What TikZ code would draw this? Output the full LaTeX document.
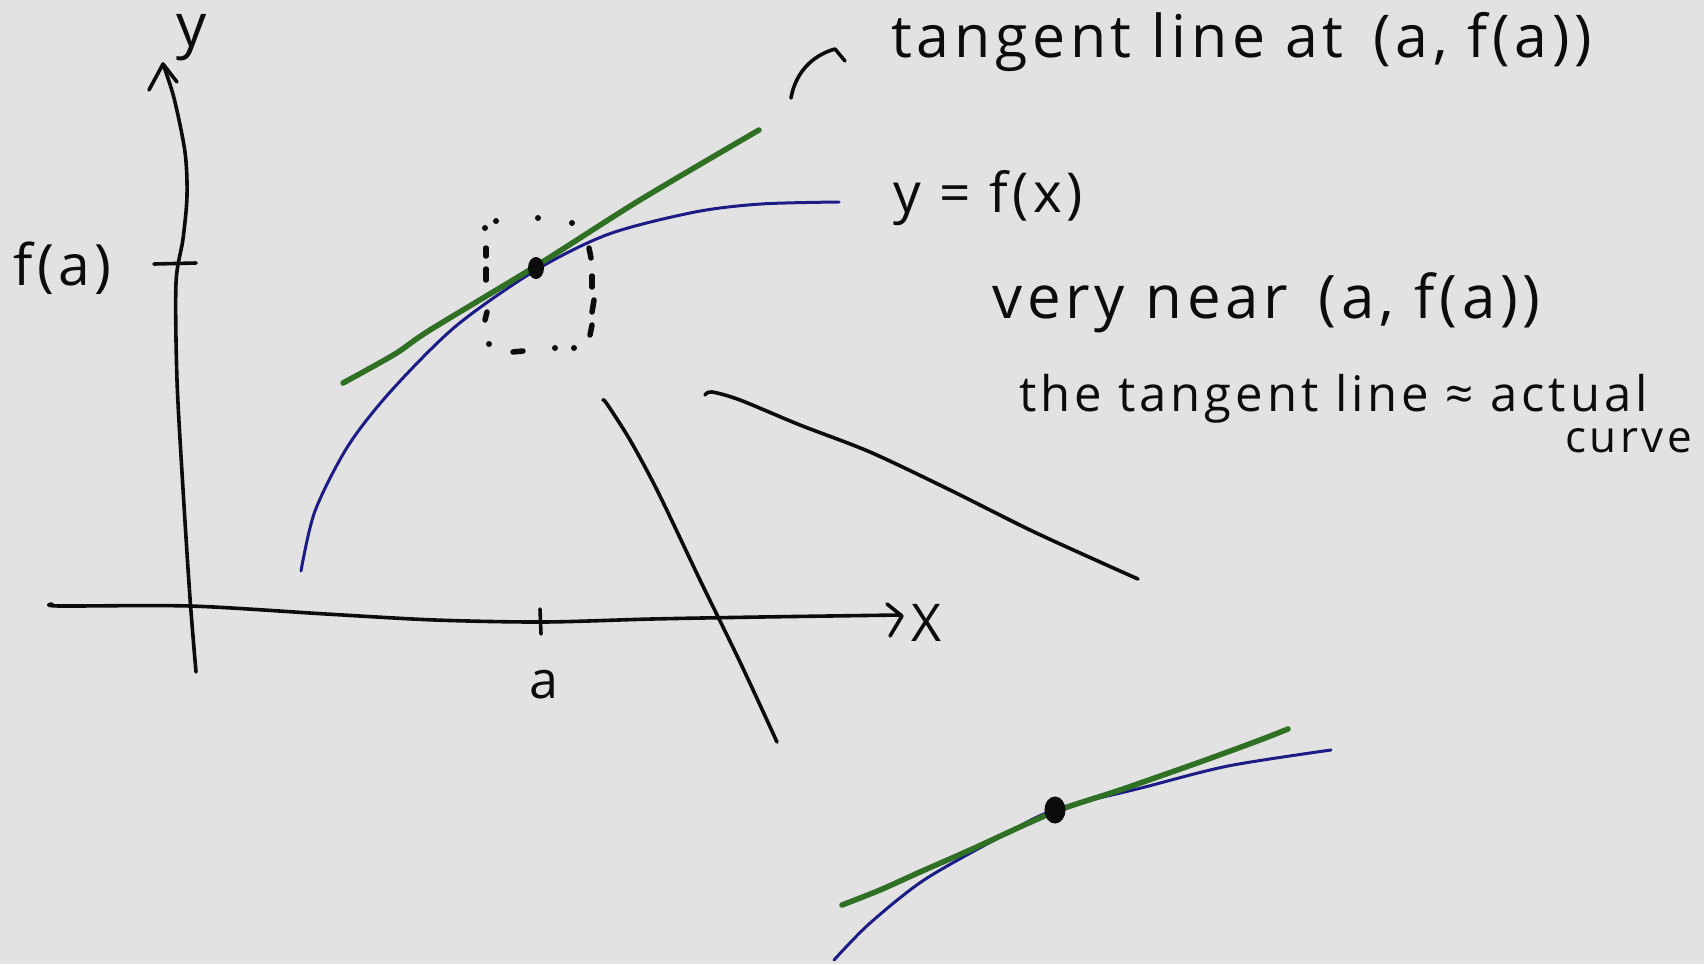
\documentclass[tikz,border=0pt]{standalone}
\usepackage{fontspec}
\setmainfont{Open Sans}[LetterSpace=8]
\usetikzlibrary{arrows.meta}
\definecolor{bgc}{RGB}{226,226,226}
\definecolor{curveblue}{RGB}{28,28,135}
\definecolor{tangreen}{RGB}{48,112,36}
\definecolor{inkc}{RGB}{12,12,12}
\begin{document}
\begin{tikzpicture}[x=1pt,y=-1pt,
  inkline/.style={draw=inkc,line width=3.6pt,line cap=round,line join=round},
  blueline/.style={draw=curveblue,line width=3pt,line cap=round,line join=round},
  greenline/.style={draw=tangreen,line width=5.5pt,line cap=round,line join=round},
  hand/.style={inner sep=0pt,text=inkc,font=\fontsize{52}{60}\selectfont},
  dotmark/.style={draw=inkc,line width=5.5pt,line cap=round}]
\fill[bgc] (0,0) rectangle (1704,964);
\useasboundingbox (0,0) rectangle (1704,964);

% axes
\draw[inkline] plot[smooth] coordinates {(196,672) (190,598) (183,489) (177,380) (176,283) (183,239) (187,196) (185,152) (174,98) (163,64)};
\draw[inkline] (149,90) -- (163,64) -- (177,82);
\draw[inkline] (154,264) -- (196,263);
\draw[inkline] plot[smooth] coordinates {(52,604) (60,606) (190,606) (326,614) (435,620) (543,622) (652,619) (761,617) (900,615)};
\draw[inkline] (887,604) -- (902,616) -- (890,636);
\draw[inkline] (540,609) -- (541,634);

% labels on axes
\node[hand,anchor=base,font=\fontsize{60}{70}\selectfont] (ylab) at (192,46) {y};
\node[hand,anchor=base west] (xlab) at (911,641) {X};
\node[hand,anchor=base west,font=\fontsize{57}{66}\selectfont] (fa) at (13,285) {f(a)};
\node[hand,anchor=base] (alab) at (544,698) {a};

% main curve and tangent
\draw[blueline] plot[smooth] coordinates {(301,571) (315,511) (348,446) (391,391) (456,326) (536,270) (609,234) (695,212) (761,204) (839,202)};
\draw[greenline] plot[smooth] coordinates {(343,383) (395,354) (430,330) (536,266) (640,200) (759,130)};
\fill[inkc] (536,268) ellipse (8pt and 11pt);

% dotted box
\foreach \p in {(485,228),(496,221),(538,218),(572,223),(489,344),(555,348),(574,348)}
  \fill[inkc] \p circle (3pt);
\draw[dotmark] (486,248) -- (486,256);
\draw[dotmark] (486,269) -- (486,280);
\draw[dotmark] (487,312) -- (485,320);
\draw[dotmark] (513,352) -- (523,351);
\draw[dotmark] (589,248) -- (591,258);
\draw[dotmark] (592,276) -- (592,287);
\draw[dotmark] (594,300) -- (592,312);
\draw[dotmark] (592,325) -- (590,335);

% black lines
\draw[inkline] plot[smooth] coordinates {(603,400) (607,404) (630,440) (658,492) (700,580) (740,662) (777,742)};
\draw[inkline] plot[smooth] coordinates {(705,395) (712,392) (740,400) (800,425) (870,452) (950,490) (1030,530) (1100,562) (1138,579)};

% inset
\draw[blueline] plot[smooth] coordinates {(834,960) (869,924) (924,880) (1000,837) (1054,810) (1141,788) (1228,766) (1331,750)};
\draw[greenline] plot[smooth] coordinates {(842,905) (880,890) (920,872) (970,850) (1054,812) (1120,790) (1200,762) (1260,740) (1288,729)};
\filldraw[inkc,line width=3pt] (1055,810) ellipse (9pt and 12pt);

% annotation arrow
\draw[inkline] (791,98) .. controls (795,75) and (810,56) .. (835,49) -- (845,61);

% texts
\node[hand,anchor=base west,font=\fontsize{59}{68}\selectfont] (tl) at (891,57) {tangent line at\, (a, f(a))};
\node[hand,anchor=base west,font=\fontsize{55}{64}\selectfont] (yfx) at (893,212) {y = f(x)};
\node[hand,anchor=base west,font=\fontsize{60}{68}\selectfont] (vn) at (992,318) {very near\, (a, f(a))};
\node[hand,anchor=base west,font=\fontsize{49}{58}\selectfont] (tt) at (1019,411) {the tangent line ≈ actual};
\node[hand,anchor=base west,font=\fontsize{44}{52}\selectfont] (cv) at (1565,452) {curve};
\end{tikzpicture}
\end{document}
